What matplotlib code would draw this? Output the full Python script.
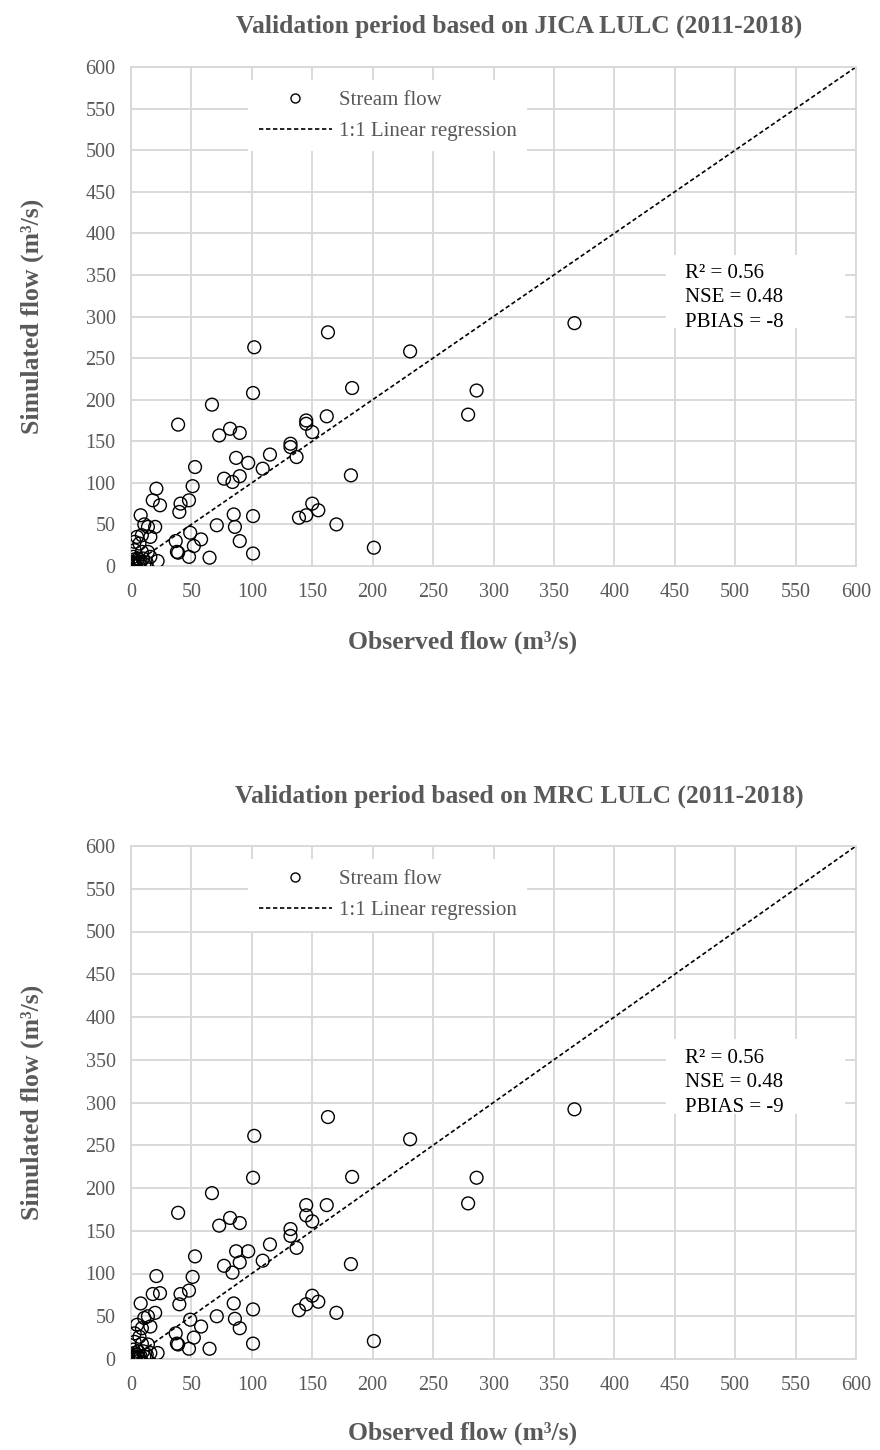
import matplotlib
matplotlib.use("Agg")
import matplotlib.pyplot as plt
from matplotlib.lines import Line2D
from matplotlib.patches import Rectangle

plt.rcParams['font.family'] = ['Liberation Serif', 'DejaVu Serif']

# ---------------- data ----------------
observed = [367, 286, 279, 231, 201, 183, 182, 170, 163, 162, 155, 150, 150, 145, 145,
            145, 139, 137, 132, 132, 115, 109, 101, 102, 101, 101, 97, 90, 90, 90,
            87, 85, 86, 84, 82, 77, 73, 71, 67, 65, 58, 53, 52, 51, 49,
            48, 48, 41, 40, 39, 37, 38, 39, 24, 21, 18, 22, 20, 8, 11,
            14, 5, 9, 16, 3, 7, 3, 9, 14, 2, 6, 10, 16, 1, 3,
            7, 13, 2, 4, 5, 8, 3, 1, 6, 11]
sim_jica = [292, 211, 182, 258, 22, 214, 109, 50, 281, 180, 67, 161, 75, 175, 171,
            61, 58, 131, 147, 143, 134, 117, 208, 263, 60, 15, 124, 108, 160, 30,
            130, 62, 47, 101, 165, 105, 157, 49, 194, 10, 32, 119, 24, 96, 40,
            79, 11, 75, 65, 170, 30, 17, 16, 73, 93, 79, 6, 47, 61, 50,
            47, 35, 37, 35, 29, 27, 19, 17, 17, 11, 9, 9, 11, 3, 2,
            3, 4, 0.5, 1, 6, 5, 8, 1, 1, 2]
sim_mrc = [292, 212, 182, 257, 21, 213, 111, 54, 283, 180, 67, 161, 74, 180, 168,
           64, 57, 130, 152, 144, 134, 115, 212, 261, 58, 18, 126, 113, 159, 36,
           126, 65, 47, 101, 165, 109, 156, 50, 194, 12, 38, 120, 25, 96, 46,
           80, 12, 76, 64, 171, 30, 18, 17, 77, 97, 76, 7, 54, 65, 48,
           50, 40, 36, 38, 30, 26, 20, 18, 17, 11, 9, 9, 7, 4, 2,
           1, 5, 1, 0.5, 5, 3, 7, 2, 1, 3]
line_x = [0, 600]
line_y = [0, 600]
ticks = list(range(0, 601, 50))

panels = [
    dict(title="Validation period based on JICA LULC (2011-2018)", sim=sim_jica,
         stats="R\u00b2 = 0.56\nNSE = 0.48\nPBIAS = -8"),
    dict(title="Validation period based on MRC LULC (2011-2018)", sim=sim_mrc,
         stats="R\u00b2 = 0.56\nNSE = 0.48\nPBIAS = -9"),
]

W, H = 880, 1450
fig = plt.figure(figsize=(W / 100, H / 100), dpi=100)

grey_txt = '#595959'
grid_c = '#d9d9d9'

# axes pixel boxes: (left, top, right, bottom)
boxes = [(131, 67, 856, 566), (131, 846, 856, 1359)]
title_y = [26, 796]
xlabel_y = [642, 1433]
stats_top = [264, 1049]

for p, (l, t, r, b), ty, xy, st in zip(panels, boxes, title_y, xlabel_y, stats_top):
    ax = fig.add_axes([l / W, 1 - b / H, (r - l) / W, (b - t) / H])
    ax.set_xlim(0, 600)
    ax.set_ylim(0, 600)
    ax.set_xticks(ticks)
    ax.set_yticks(ticks)
    ax.grid(True, color=grid_c, linewidth=1.4, zorder=0)
    ax.set_axisbelow(True)
    for s in ax.spines.values():
        s.set_color(grid_c)
        s.set_linewidth(1.4)
    ax.tick_params(length=0, labelsize=14.5, labelcolor=grey_txt)
    ax.tick_params(axis='y', pad=11)
    ax.tick_params(axis='x', pad=12)

    ax.scatter(observed, p['sim'], s=85, facecolors='none', edgecolors='black',
               linewidths=1.0, zorder=3)
    ax.plot(line_x, line_y, color='black', linewidth=1.2, dashes=(2.6, 1.6), zorder=2)

    handles = [
        Line2D([], [], linestyle='none', marker='o', markersize=6.5,
               markerfacecolor='none', markeredgecolor='black', markeredgewidth=1.0),
        Line2D([], [], color='black', linewidth=1.2, dashes=(2.6, 1.6)),
    ]
    leg = ax.legend(handles, ["Stream flow", "1:1 Linear regression"],
                    loc='upper left', bbox_to_anchor=(0.162, 0.974),
                    borderaxespad=0, frameon=True, fancybox=False,
                    handlelength=3.5, handletextpad=0.35, labelspacing=0.55,
                    borderpad=0.5, fontsize=15, labelcolor=grey_txt)
    leg.get_frame().set_facecolor('white')
    leg.get_frame().set_edgecolor('none')
    leg.get_frame().set_alpha(1)
    leg.set_zorder(4)

    # white box behind the statistics text
    ax.add_patch(Rectangle((0.738, 0.477), 0.247, 0.146, transform=ax.transAxes,
                           facecolor='white', edgecolor='none', zorder=1.5))
    ax.text(685 / W, 1 - st / H, p['stats'], transform=fig.transFigure, fontsize=15,
            va='top', ha='left', color='black', linespacing=1.39, zorder=4)

    fig.text(519 / W, 1 - ty / H, p['title'], ha='center', va='center',
             fontsize=18.4, fontweight='bold', color=grey_txt)
    fig.text(463 / W, 1 - xy / H, "Observed flow (m\u00b3/s)", ha='center', va='center',
             fontsize=18.5, fontweight='bold', color=grey_txt)
    fig.text(32 / W, 1 - (t + b) / 2 / H, "Simulated flow (m\u00b3/s)", ha='center',
             va='center', rotation=90, fontsize=18.5, fontweight='bold', color=grey_txt)

fig.savefig("out.png", dpi=100)
